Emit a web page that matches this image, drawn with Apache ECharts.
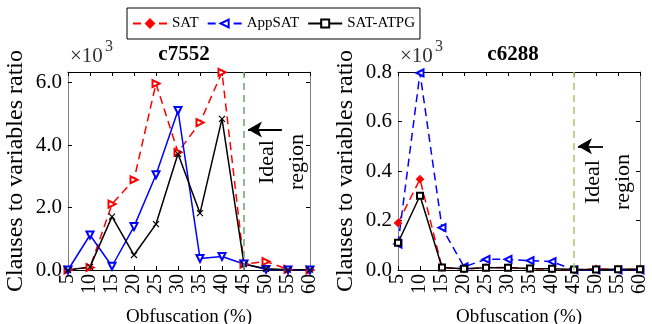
<!DOCTYPE html>
<html>
<head>
<meta charset="utf-8">
<script src="https://cdn.jsdelivr.net/npm/echarts@6/dist/echarts.min.js"></script>
<style>
  html, body { margin: 0; padding: 0; background: #fff; }
  #chart { width: 652px; height: 324px; }
</style>
</head>
<body>
<div id="chart"></div>
<script>
// obfuscation levels (%)
const obfuscation = [5, 10, 15, 20, 25, 30, 35, 40, 45, 50, 55, 60]

// c7552, values in units of 10^3
const c7552Sat      = [0.0, 0.08, 2.11, 2.89, 5.97, 3.77, 4.72, 6.33, 0.19, 0.27, 0.02, 0.0]
const c7552AppSat   = [0.0, 1.12, 0.12, 1.39, 3.05, 5.11, 0.37, 0.43, 0.19, 0.02, 0.0, 0.0]
const c7552SatAtpg  = [0.0, 0.10, 1.71, 0.48, 1.47, 3.72, 1.82, 4.84, 0.19, 0.04, 0.01, 0.01]

// c6288, values in units of 10^3
const c6288Sat      = [0.19, 0.367, 0.010, 0.003, 0.010, 0.010, 0.005, 0.003, 0.0, 0.005, 0.002, 0.003]
const c6288AppSat   = [0.105, 0.796, 0.171, 0.013, 0.043, 0.043, 0.038, 0.034, 0.0, 0.0, 0.0, 0.0]
const c6288SatAtpg  = [0.11, 0.30, 0.010, 0.005, 0.009, 0.009, 0.006, 0.005, 0.002, 0.002, 0.003, 0.003]

const pairs = (ys) => obfuscation.map((x, i) => [x, ys[i]])

const serif = 'Liberation Serif'
const chart = echarts.init(document.getElementById('chart'))

const xBottom = (gridIndex) => ({
  type: 'value', gridIndex, min: 5, max: 60, interval: 5,
  name: 'Obfuscation (%)', nameLocation: 'middle', nameGap: 38,
  nameTextStyle: { fontFamily: serif, fontSize: 19, color: '#000' },
  axisLine: { onZero: false, lineStyle: { color: '#000', width: 1 } },
  axisTick: { inside: true, length: 4, lineStyle: { color: '#000' } },
  axisLabel: { rotate: 90, margin: 4, fontFamily: serif, fontSize: 20, color: '#000' },
  splitLine: { show: false }
})
const xTop = (gridIndex) => ({
  type: 'value', gridIndex, position: 'top', min: 5, max: 60, interval: 5,
  axisLine: { onZero: false, lineStyle: { color: '#000', width: 1 } },
  axisTick: { inside: true, length: 4, lineStyle: { color: '#000' } },
  axisLabel: { show: false }, splitLine: { show: false }
})
const yLeft = (gridIndex, max, interval, showMax) => ({
  type: 'value', gridIndex, min: 0, max, interval,
  name: 'Clauses to variables ratio', nameLocation: 'middle', nameGap: 40, nameRotate: 90,
  nameTextStyle: { fontFamily: serif, fontSize: 24, color: '#000' },
  axisLine: { show: true, onZero: false, lineStyle: { color: '#808080', width: 1 } },
  axisTick: { inside: true, length: 4, lineStyle: { color: '#000' } },
  axisLabel: { margin: 6, fontFamily: serif, fontSize: 21, color: '#000', showMaxLabel: showMax,
    formatter: v => v.toFixed(1) },
  splitLine: { show: false }
})
const yRight = (gridIndex, max, interval) => ({
  type: 'value', gridIndex, position: 'right', min: 0, max, interval,
  axisLine: { show: true, onZero: false, lineStyle: { color: '#808080', width: 1 } },
  axisTick: { inside: true, length: 4, lineStyle: { color: '#000' } },
  axisLabel: { show: false }, splitLine: { show: false }
})

const line = (name, data, xi, yi, color, dashed, symbol, extra) => Object.assign({
  name, type: 'line', data: pairs(data), xAxisIndex: xi, yAxisIndex: yi,
  symbol, symbolSize: 7, showAllSymbol: true,
  lineStyle: { color, width: 1.5, type: dashed ? [8, 5] : 'solid' },
  itemStyle: { color, borderColor: color, borderWidth: 1.2 },
  emphasis: { disabled: true }, z: 3
}, extra || {})

// empty series so the top / right frame axes get drawn
const frame = (xi, yi) => ({ type: 'line', data: [], xAxisIndex: xi, yAxisIndex: yi, silent: true })

const idealLine = (color) => ({
  silent: true, symbol: 'none', label: { show: false },
  lineStyle: { color, width: 1.5, type: [7, 5] },
  data: [{ xAxis: 45 }]
})
const arrow = (y, x0, x1) => ({
  silent: true, symbol: ['none', 'arrow'], symbolSize: [12, 14], label: { show: false },
  lineStyle: { color: '#000', width: 1.8, type: 'solid' },
  data: [[{ coord: [x0, y] }, { coord: [x1, y] }]]
})

const xMark = 'path://M0,0L10,10M10,0L0,10'

chart.setOption({
  animation: false,
  backgroundColor: '#fff',
  legend: {
    left: 127, top: 8, padding: [8, 5], itemGap: 8, itemWidth: 34, itemHeight: 10,
    borderColor: '#000', borderWidth: 1,
    textStyle: { fontFamily: serif, fontSize: 15, color: '#000' },
    data: ['SAT', 'AppSAT', 'SAT-ATPG']
  },
  grid: [
    { left: 68, top: 72, width: 242, height: 198, outerBoundsMode: 'none' },
    { left: 398, top: 72, width: 242, height: 198, outerBoundsMode: 'none' }
  ],
  xAxis: [xBottom(0), xTop(0), xBottom(1), xTop(1)],
  yAxis: [yLeft(0, 6.34, 2, false), yRight(0, 6.34, 2), yLeft(1, 0.8, 0.2, true), yRight(1, 0.8, 0.2)],
  graphic: [
    { type: 'text', x: 184, y: 55, style: { text: 'c7552', font: 'bold 21px "Liberation Serif"', textAlign: 'center', textVerticalAlign: 'middle', fill: '#000' } },
    { type: 'text', x: 513, y: 55, style: { text: 'c6288', font: 'bold 21px "Liberation Serif"', textAlign: 'center', textVerticalAlign: 'middle', fill: '#000' } },
    { type: 'text', x: 70, y: 56, style: { text: '×10', font: '21px "Liberation Serif"', textVerticalAlign: 'middle', fill: '#333' } },
    { type: 'text', x: 105, y: 47, style: { text: '3', font: '16px "Liberation Serif"', textVerticalAlign: 'middle', fill: '#333' } },
    { type: 'text', x: 400, y: 56, style: { text: '×10', font: '21px "Liberation Serif"', textVerticalAlign: 'middle', fill: '#333' } },
    { type: 'text', x: 435, y: 47, style: { text: '3', font: '16px "Liberation Serif"', textVerticalAlign: 'middle', fill: '#333' } },
    { type: 'text', x: 282, y: 162, rotation: Math.PI / 2, style: { text: 'Ideal\nregion', font: '22px "Liberation Serif"', lineHeight: 30, textAlign: 'center', textVerticalAlign: 'middle', fill: '#000' } },
    { type: 'text', x: 608, y: 182, rotation: Math.PI / 2, style: { text: 'Ideal\nregion', font: '22px "Liberation Serif"', lineHeight: 30, textAlign: 'center', textVerticalAlign: 'middle', fill: '#000' } }
  ],
  series: [
    // c6288 first, its styles match the legend
    line('SAT', c6288Sat, 2, 2, '#ff0000', true, 'diamond', { markLine: idealLine('#a6c872') }),
    line('AppSAT', c6288AppSat, 2, 2, '#0000ff', true, 'emptyTriangle', { symbolRotate: 90, markLine: arrow(0.5, 51.6, 45.9) }),
    line('SAT-ATPG', c6288SatAtpg, 2, 2, '#000000', false, 'emptyRect', { symbolSize: 6 }),
    // c7552
    line('SAT', c7552Sat, 0, 0, '#ff0000', true, 'emptyTriangle', { symbolRotate: -90, markLine: idealLine('#6fa36f') }),
    line('AppSAT', c7552AppSat, 0, 0, '#0000ff', false, 'emptyTriangle', { symbolRotate: 180, markLine: arrow(4.5, 53.6, 45.9) }),
    line('SAT-ATPG', c7552SatAtpg, 0, 0, '#000000', false, xMark, { symbolSize: 6, itemStyle: { color: 'none', borderColor: '#000', borderWidth: 1.2 } }),
    frame(1, 1),
    frame(3, 3)
  ]
})
</script>
</body>
</html>
